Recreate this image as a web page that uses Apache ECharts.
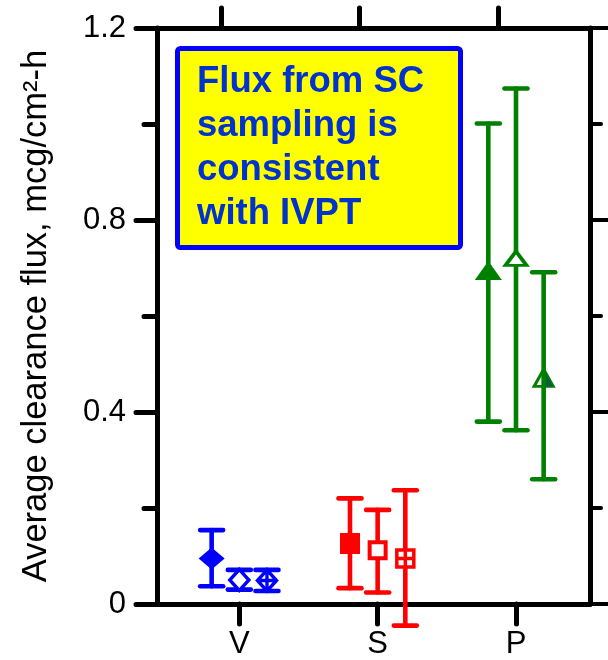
<!DOCTYPE html>
<html>
<head>
<meta charset="utf-8">
<script src="https://cdn.jsdelivr.net/npm/echarts@6/dist/echarts.min.js"></script>
<style>
  html, body { margin: 0; padding: 0; background: #fff; }
  #chart { width: 608px; height: 660px; }
</style>
</head>
<body>
<div id="chart"></div>
<script>
// categories on the x axis
const categories = ["V", "S", "P"];

// three measurements per category (left, middle, right)
const vMean = [0.095, 0.050, 0.049];
const vHigh = [0.154, 0.071, 0.071];
const vLow = [0.037, 0.030, 0.027];

const sMean = [0.126, 0.112, 0.095];
const sHigh = [0.220, 0.196, 0.237];
const sLow = [0.033, 0.024, -0.045];

const pMean = [0.695, 0.720, 0.471];
const pHigh = [1.001, 1.074, 0.691];
const pLow = [0.380, 0.362, 0.260];

const yTicks = [0, 0.4, 0.8, 1.2];
const yTitle = "Average clearance flux, mcg/cm\u00b2-h";
const boxLines = ["Flux from SC", "sampling is", "consistent", "with IVPT"];

const FONT = "Liberation Sans, Arial, Helvetica, sans-serif";
const BLUE = "#0000ff";
const RED = "#ff0000";
const GREEN = "#008000";

// horizontal shift of the left / middle / right marker inside a category
const shift = [-0.2, 0, 0.2];

const crossDiamond = "path://M0,-10L10,0L0,10L-10,0Z M-10,0L10,0 M0,-10L0,10";
const crossSquare = "path://M-10,-10H10V10H-10Z M-10,0H10 M0,-10V10";
const halfTriangle = "path://M0,0L10,20L0,20Z";

const groups = [
  { mean: vMean, high: vHigh, low: vLow, color: BLUE },
  { mean: sMean, high: sHigh, low: sLow, color: RED },
  { mean: pMean, high: pHigh, low: pLow, color: GREEN },
];

// marker look for each point, group by group
const markers = [
  [
    { symbol: "diamond", size: [26, 22], fill: BLUE, border: 0 },
    { symbol: "diamond", size: [19, 21], fill: "#fff", border: 3.5 },
    { symbol: crossDiamond, size: [19, 21], fill: "#fff", border: 3.5 },
  ],
  [
    { symbol: "rect", size: [20, 21], fill: RED, border: 0 },
    { symbol: "rect", size: [16, 16], fill: "#fff", border: 4 },
    { symbol: crossSquare, size: [17, 17], fill: "#fff", border: 3.5 },
  ],
  [
    { symbol: "triangle", size: [27, 19], fill: GREEN, border: 0 },
    { symbol: "triangle", size: [21, 14], fill: "#fff", border: 3.5 },
    { symbol: "triangle", size: [19, 17], fill: "#fff", border: 3 },
  ],
];

const series = [];

groups.forEach((g, gi) => {
  g.mean.forEach((m, k) => {
    const x = gi + 1 + shift[k];
    const last = gi === 2 && k === 2;
    series.push({
      type: "custom",
      z: last ? 6 : 2,
      clip: false,
      data: [[x, g.low[k], g.high[k]]],
      renderItem: (params, api) => {
        const lo = api.coord([api.value(0), api.value(1)]);
        const hi = api.coord([api.value(0), api.value(2)]);
        const half = 11.5;
        const style = { stroke: g.color, lineWidth: 4.6, lineCap: "round" };
        return {
          type: "group",
          children: [
            { type: "line", shape: { x1: lo[0], y1: lo[1], x2: hi[0], y2: hi[1] }, style },
            { type: "line", shape: { x1: hi[0] - half, y1: hi[1], x2: hi[0] + half, y2: hi[1] }, style },
            { type: "line", shape: { x1: lo[0] - half, y1: lo[1], x2: lo[0] + half, y2: lo[1] }, style },
          ],
        };
      },
    });
    const mk = markers[gi][k];
    series.push({
      type: "scatter",
      z: 4,
      silent: true,
      symbol: mk.symbol,
      symbolSize: mk.size,
      itemStyle: {
        color: mk.fill,
        borderColor: g.color,
        borderWidth: mk.border,
        opacity: 1,
      },
      data: [[x, m]],
    });
    if (last) {
      // right half of this triangle is filled dark green
      series.push({
        type: "scatter",
        z: 5,
        silent: true,
        symbol: halfTriangle,
        symbolSize: [9.5, 17],
        symbolOffset: [4.75, 0],
        itemStyle: { color: "#0b5e3a", opacity: 1 },
        data: [[x, m]],
      });
    }
  });
});

const xMin = 0.405;
const xMax = 3.535;

const chart = echarts.init(document.getElementById("chart"));
chart.setOption({
  animation: false,
  backgroundColor: "#fff",
  grid: { left: 157, right: 18, top: 28, bottom: 55 },
  xAxis: [
    {
      type: "value",
      position: "bottom",
      min: xMin,
      max: xMax,
      axisLine: { onZero: false, lineStyle: { color: "#000", width: 5 } },
      axisTick: {
        customValues: [1, 2, 3],
        length: 20,
        lineStyle: { color: "#000", width: 5, cap: "round" },
      },
      axisLabel: {
        customValues: [1, 2, 3],
        formatter: (v) => categories[Math.round(v) - 1],
        fontSize: 31,
        fontFamily: FONT,
        color: "#000",
        margin: 25,
      },
      splitLine: { show: false },
    },
    {
      type: "value",
      position: "top",
      min: xMin,
      max: xMax,
      axisLine: { onZero: false, lineStyle: { color: "#000", width: 5 } },
      axisTick: {
        customValues: [0.87, 1.87, 2.87],
        length: 20,
        lineStyle: { color: "#000", width: 5, cap: "round" },
      },
      axisLabel: { show: false },
      splitLine: { show: false },
    },
  ],
  yAxis: [
    {
      type: "value",
      position: "left",
      min: 0,
      max: 1.2,
      interval: 0.4,
      name: yTitle,
      nameLocation: "middle",
      nameGap: 103,
      nameTextStyle: { fontSize: 34.5, fontFamily: FONT, color: "#000" },
      axisLine: { show: true, onZero: false, lineStyle: { color: "#000", width: 5 } },
      axisTick: { show: true, length: 21, lineStyle: { color: "#000", width: 5, cap: "round" } },
      minorTick: { show: true, splitNumber: 2, length: 13, lineStyle: { color: "#000", width: 5, cap: "round" } },
      axisLabel: {
        formatter: (v) => {
          const t = yTicks.find((q) => Math.abs(q - v) < 1e-6);
          return t === 0 ? "0" : t.toFixed(1);
        },
        fontSize: 31,
        fontFamily: FONT,
        color: "#000",
        margin: 31,
      },
      splitLine: { show: false },
    },
    {
      type: "value",
      position: "right",
      min: 0,
      max: 1.2,
      interval: 0.4,
      axisLine: { show: true, onZero: false, lineStyle: { color: "#000", width: 5 } },
      axisTick: { show: true, length: 18, lineStyle: { color: "#000", width: 4, cap: "round" } },
      minorTick: { show: true, splitNumber: 2, length: 11, lineStyle: { color: "#000", width: 4, cap: "round" } },
      axisLabel: { show: false },
      splitLine: { show: false },
    },
  ],
  graphic: [
    {
      type: "rect",
      z: 10,
      shape: { x: 177.5, y: 48.5, width: 283, height: 199, r: 3 },
      style: { fill: "#ffff00", stroke: BLUE, lineWidth: 5 },
    },
    {
      type: "text",
      z: 11,
      left: 197,
      top: 60,
      style: {
        text: boxLines.join("\n"),
        fill: "#0033cc",
        font: "bold 36.5px " + FONT,
        lineHeight: 44,
      },
    },
  ],
  series: series,
});
</script>
</body>
</html>
